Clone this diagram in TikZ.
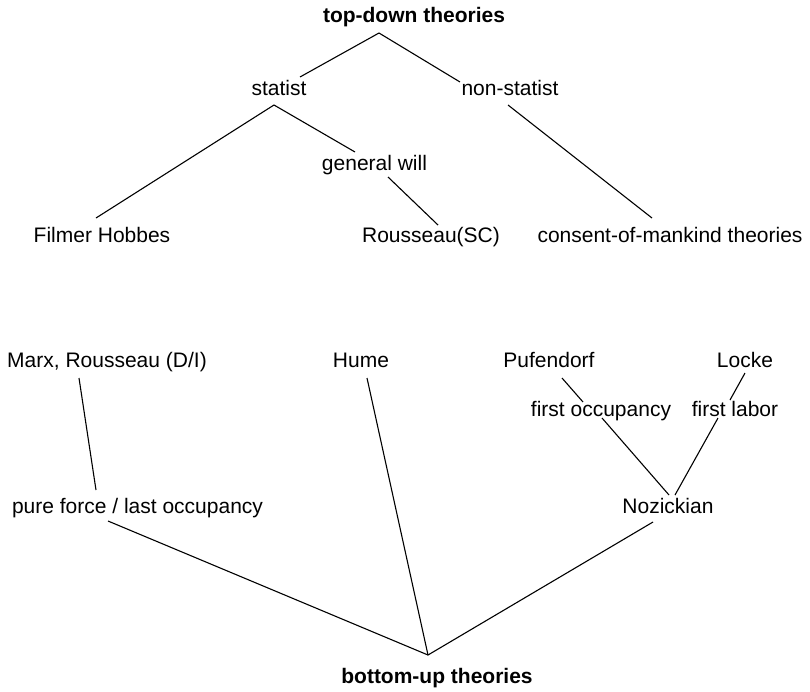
\documentclass[tikz,border=0pt]{standalone}
\usepackage{fontspec}
\setmainfont{Liberation Sans}
\begin{document}
\begin{tikzpicture}[x=1pt,y=-1pt,
  lbl/.style={anchor=base,inner sep=0pt,font=\fontsize{21}{24}\selectfont},
  ttl/.style={lbl,font=\fontsize{21}{24}\selectfont\bfseries},
  conn/.style={line width=1.1pt,black}]
\useasboundingbox (0,0) rectangle (810,691);
% labels
\node[ttl] (td) at (414,22) {top-down theories};
\node[lbl] (statist) at (279,95) {statist};
\node[lbl] (nonstatist) at (510,95) {non-statist};
\node[lbl] (gw) at (374.5,170) {general will};
\node[lbl] (filmer) at (102,242) {Filmer Hobbes};
\node[lbl] (rsc) at (431,242) {Rousseau(SC)};
\node[lbl] (consent) at (670,242) {consent-of-mankind theories};
\node[lbl] (marx) at (107,367) {Marx, Rousseau (D/I)};
\node[lbl] (hume) at (361,367) {Hume};
\node[lbl] (pufendorf) at (549,367) {Pufendorf};
\node[lbl] (locke) at (745,367) {Locke};
\node[lbl] (fo) at (601,416) {first occupancy};
\node[lbl] (fl) at (735,416) {first labor};
\node[lbl] (pure) at (137.5,513) {pure force / last occupancy};
\node[lbl] (noz) at (668,513) {Nozickian};
\node[ttl] (bu) at (437,683) {bottom-up theories};
% connector ends
\coordinate (tdA) at (379,33);
\coordinate (statT) at (300,77);
\coordinate (nonT) at (460,82);
\coordinate (statB) at (274,105);
\coordinate (filT) at (96,218);
\coordinate (gwT) at (355,152);
\coordinate (gwB) at (388,177);
\coordinate (rscT) at (438,225);
\coordinate (nonB) at (508,105);
\coordinate (conT) at (652,218);
\coordinate (marxB) at (79,378);
\coordinate (pureT) at (96,490);
\coordinate (humeB) at (367,378);
\coordinate (pufB) at (562,378);
\coordinate (foT) at (583,402);
\coordinate (foB) at (602,418);
\coordinate (lockeB) at (745,373);
\coordinate (flT) at (730,400);
\coordinate (flB) at (718,418);
\coordinate (nozT1) at (669,495);
\coordinate (nozT2) at (675,495);
\coordinate (pureB) at (108,521);
\coordinate (nozB) at (653,522);
\coordinate (buA) at (428,655);
% connectors
\draw[conn] (statT) -- (tdA) -- (nonT);
\draw[conn] (filT) -- (statB) -- (gwT);
\draw[conn] (gwB) -- (rscT);
\draw[conn] (nonB) -- (conT);
\draw[conn] (marxB) -- (pureT);
\draw[conn] (pufB) -- (foT);
\draw[conn] (foB) -- (nozT1);
\draw[conn] (lockeB) -- (flT);
\draw[conn] (flB) -- (nozT2);
\draw[conn] (pureB) -- (buA) -- (nozB);
\draw[conn] (humeB) -- (buA);
\end{tikzpicture}
\end{document}
